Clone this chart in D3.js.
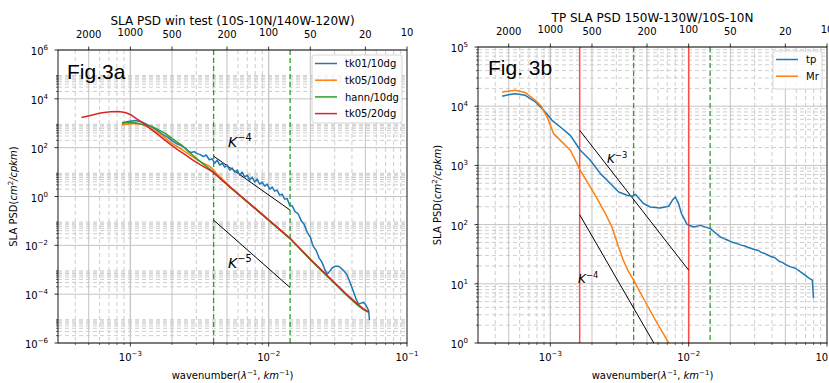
<!DOCTYPE html>
<html>
<head>
<meta charset="utf-8">
<script src="https://cdn.jsdelivr.net/npm/d3@7"></script>
<style>
body { margin: 0; background: #fff; }
text { font-family: "DejaVu Sans", sans-serif; fill: #000; }
</style>
</head>
<body>
<svg id="chart" width="829" height="383"></svg>
<script>
// ---- data: [wavenumber (1/km), PSD] ----
const tk01 = [[8.71e-4,1047],[9.67e-4,1175],[1.087e-3,1290],[1.221e-3,1120],[1.349e-3,843],[1.515e-3,578],
  [1.703e-3,360],[1.88e-3,259],[2.043e-3,178],[2.186e-3,141],[2.336e-3,122],[2.496e-3,96],[2.622e-3,73],
  [2.754e-3,63],[2.897e-3,69],[3.04e-3,57],[3.2e-3,52],[3.37e-3,43],[3.54e-3,50],[3.72e-3,32],[3.91e-3,35],
  [4.07e-3,23],[4.25e-3,31],[4.43e-3,19.4],[4.62e-3,23.4],[4.81e-3,16],[5.01e-3,19.4],[5.23e-3,12.1],
  [5.45e-3,14.6],[5.68e-3,10],[5.92e-3,12.1],[6.17e-3,7.5],[6.44e-3,10],[6.71e-3,6.2],[7.0e-3,7.5],
  [7.29e-3,4.7],[7.6e-3,6.2],[7.93e-3,3.9],[8.26e-3,5.2],[8.61e-3,3.2],[8.98e-3,3.9],[9.36e-3,2.67],
  [9.76e-3,3.2],[1.017e-2,2.0],[1.06e-2,2.43],[1.105e-2,1.66],[1.152e-2,1.83],[1.2e-2,1.14],[1.25e-2,1.25],
  [1.305e-2,0.78],[1.36e-2,0.82],[1.42e-2,0.44],[1.48e-2,0.42],[1.55e-2,0.24],[1.63e-2,0.2],[1.72e-2,0.1],
  [1.8e-2,0.075],[1.9e-2,0.034],[2.0e-2,0.022],[2.09e-2,9.5e-3],[2.2e-2,6.3e-3],[2.32e-2,3.0e-3],
  [2.43e-2,2.0e-3],[2.56e-2,9.6e-4],[2.64e-2,6.6e-4],[2.73e-2,8.0e-4],[2.87e-2,1.16e-3],[3.02e-2,1.4e-3],
  [3.18e-2,1.4e-3],[3.34e-2,1.16e-3],[3.51e-2,8.8e-4],[3.69e-2,6.0e-4],[3.87e-2,3.1e-4],[4.07e-2,1.46e-4],
  [4.29e-2,6.2e-5],[4.47e-2,3.9e-5],[4.66e-2,4.3e-5],[4.85e-2,4.7e-5],[5.06e-2,3.5e-5],[5.27e-2,2.2e-5],
  [5.36e-2,8.6e-6]]
const tk05 = [[8.71e-4,843],[9.67e-4,927],[1.087e-3,972],[1.221e-3,885],[1.39e-3,635],[1.65e-3,361],
  [2.0e-3,150],[2.37e-3,84],[2.71e-3,50],[3.1e-3,29.6],[3.48e-3,21.3],[3.72e-3,17.6],[3.91e-3,13.9],
  [4.17e-3,9.1],[5.27e-3,2.45],[7.35e-3,0.49],[1.025e-2,0.097],[1.43e-2,0.019],[2.0e-2,2.7e-3],
  [2.64e-2,5.8e-4],[3.56e-2,1.12e-4],[4.35e-2,4.0e-5],[4.81e-2,2.5e-5],[5.32e-2,1.8e-5]]
const hann = [[8.71e-4,990],[9.67e-4,1070],[1.087e-3,1040],[1.221e-3,900],[1.44e-3,733],[1.79e-3,385],
  [2.01e-3,236],[2.37e-3,122],[2.64e-3,68],[3.11e-3,31],[3.89e-3,11.3],[5.27e-3,2.35],[7.35e-3,0.47],
  [1.025e-2,0.094],[1.43e-2,0.0185],[2.0e-2,2.6e-3],[2.64e-2,5.5e-4],[3.56e-2,1.05e-4],[4.35e-2,3.7e-5],
  [4.81e-2,2.4e-5],[5.32e-2,1.75e-5]]
const tk05w20 = [[4.43e-4,1714],[5.14e-4,2070],[6.07e-4,2620],[7.18e-4,2930],[8.19e-4,3020],[9.2e-4,2750],
  [1.017e-3,2170],[1.12e-3,1490],[1.24e-3,1020],[1.39e-3,607],[1.57e-3,361],[1.76e-3,215],[1.98e-3,128],
  [2.22e-3,80],[2.49e-3,52],[2.8e-3,32.5],[3.2e-3,20.3],[3.91e-3,10.5],[5.27e-3,2.43],[7.35e-3,0.489],
  [1.025e-2,0.098],[1.43e-2,0.0192],[2.0e-2,2.7e-3],[2.64e-2,5.9e-4],[3.56e-2,1.15e-4],[4.35e-2,4.1e-5],
  [4.81e-2,2.55e-5],[5.32e-2,1.83e-5]]

const tp = [[4.48e-4,14700],[4.97e-4,15600],[5.58e-4,16300],[6.59e-4,15300],[7.8e-4,11800],[9.2e-4,7980],
  [1.029e-3,5780],[1.181e-3,4450],[1.395e-3,3220],[1.648e-3,1800],[1.946e-3,1220],[2.3e-3,726],
  [2.715e-3,493],[3.12e-3,356],[3.59e-3,313],[3.92e-3,301],[4.12e-3,325],[4.73e-3,226],[5.28e-3,198],
  [6.24e-3,191],[7.16e-3,204],[7.62e-3,257],[8.01e-3,292],[8.43e-3,229],[8.86e-3,155],[9.73e-3,101],
  [1.087e-2,91],[1.215e-2,97],[1.435e-2,85.5],[1.695e-2,61.8],[1.8e-2,58],[1.9e-2,55],[2.0e-2,52],
  [2.1e-2,50],[2.24e-2,47.8],[2.4e-2,45],[2.55e-2,43.5],[2.7e-2,41],[2.95e-2,38.3],[3.15e-2,37],
  [3.35e-2,34],[3.6e-2,32],[3.9e-2,29.2],[4.2e-2,27.5],[4.5e-2,24],[4.75e-2,23],[5.0e-2,21.3],
  [5.4e-2,19.5],[5.91e-2,18.3],[6.4e-2,16],[6.98e-2,13.9],[7.4e-2,12.5],[7.84e-2,11.5],[7.98e-2,5.7]]
const mr = [[4.48e-4,17400],[5.58e-4,18600],[6.59e-4,17000],[7.8e-4,12600],[8.61e-4,9960],[9.51e-4,6500],
  [1.056e-3,3440],[1.248e-3,2330],[1.395e-3,1800],[1.56e-3,1070],[1.648e-3,826],[1.946e-3,431],
  [2.18e-3,275],[2.5e-3,153],[2.79e-3,91],[3.1e-3,43],[3.37e-3,25],[3.66e-3,16.3],[4.0e-3,11.5],
  [4.7e-3,5.7],[5.58e-3,2.75],[7.17e-3,1.0],[8.0e-3,0.63]]

// reference slopes and marker lines
const slopeA4 = [[4e-3,45],[1/70,0.277]]
const slopeA5 = [[4e-3,0.108],[1/70,1.86e-4]]
const slopeB3 = [[1.63e-3,3918],[1e-2,17]]
const slopeB4 = [[1.63e-3,147],[5.6e-3,1.0]]
const greenMarks = [1/250, 1/70]
const redMarks = [1.63e-3, 1e-2]

const xMajor = [1e-3, 1e-2, 1e-1]
const topWavelengths = [2000, 1000, 500, 200, 100, 50, 20, 10]
const yMajorA = [-6, -4, -2, 0, 2, 4, 6]
const yMajorB = [0, 1, 2, 3, 4, 5]

const svg = d3.select("#chart")
const minus = s => String(s).replace("-", "\u2212")

function powLabel(sel, exp, size) {
  sel.append("tspan").text("10")
  sel.append("tspan").attr("dy", -5).attr("font-size", size).text(minus(exp))
}

function drawPanel(p) {
  const x = d3.scaleLog().domain([3e-4, 0.1]).range([p.left, p.right])
  const y = d3.scaleLog().domain(p.yDomain).range([p.bottom, p.top])
  const g = svg.append("g")

  // minor positions
  const xMinor = []
  for (let e = -4; e <= -2; e++) for (let m = 2; m <= 9; m++) {
    const v = m * Math.pow(10, e)
    if (v > 3.01e-4 && v < 0.1) xMinor.push(v)
  }
  const topK = topWavelengths.map(l => 1 / l)
  const yMinor = []
  p.yMajor.forEach(e => { for (let m = 2; m <= 9; m++) {
    const v = m * Math.pow(10, e)
    if (v < p.yDomain[1]) yMinor.push(v)
  } })

  const grid = g.append("g")
  const isTop = v => topK.some(t => Math.abs(t - v) / v < 1e-6)
  grid.selectAll(".xm").data(xMinor.filter(v => !isTop(v))).join("line")
    .attr("x1", d => x(d)).attr("x2", d => x(d)).attr("y1", p.top).attr("y2", p.bottom)
    .attr("stroke", "#c8c8c8").attr("stroke-width", 0.9).attr("stroke-dasharray", "4,3")
  grid.selectAll(".ym").data(yMinor).join("line")
    .attr("x1", p.left).attr("x2", p.right).attr("y1", d => y(d)).attr("y2", d => y(d))
    .attr("stroke", "#c8c8c8").attr("stroke-width", 0.9).attr("stroke-dasharray", "4,3")
  grid.selectAll(".xM").data(xMajor.concat(topK).filter(v => v < 0.1)).join("line")
    .attr("x1", d => x(d)).attr("x2", d => x(d)).attr("y1", p.top).attr("y2", p.bottom)
    .attr("stroke", "#c4c4c4").attr("stroke-width", 1)
  grid.selectAll(".yM").data(p.yMajor.map(e => Math.pow(10, e))).join("line")
    .attr("x1", p.left).attr("x2", p.right).attr("y1", d => y(d)).attr("y2", d => y(d))
    .attr("stroke", "#c4c4c4").attr("stroke-width", 1)

  const clipId = "clip" + p.id
  svg.append("clipPath").attr("id", clipId).append("rect")
    .attr("x", p.left).attr("y", p.top).attr("width", p.right - p.left).attr("height", p.bottom - p.top)
  const plot = g.append("g").attr("clip-path", `url(#${clipId})`)

  const line = d3.line().x(d => x(d[0])).y(d => y(d[1]))

  ;(p.red || []).forEach(k => plot.append("line")
    .attr("x1", x(k)).attr("x2", x(k)).attr("y1", p.top).attr("y2", p.bottom)
    .attr("stroke", "#ff4a4a").attr("stroke-width", 1.5))
  greenMarks.forEach(k => plot.append("line")
    .attr("x1", x(k)).attr("x2", x(k)).attr("y1", p.top).attr("y2", p.bottom)
    .attr("stroke", "#2ca02c").attr("stroke-width", 1.3).attr("stroke-dasharray", "5,3"))

  p.slopes.forEach(s => plot.append("path").datum(s).attr("d", line)
    .attr("fill", "none").attr("stroke", "#000").attr("stroke-width", 1))

  p.series.forEach(s => plot.append("path").datum(s.pts).attr("d", line)
    .attr("fill", "none").attr("stroke", s.color).attr("stroke-width", 1.5)
    .attr("stroke-linejoin", "round"))

  // frame
  g.append("rect").attr("x", p.left).attr("y", p.top)
    .attr("width", p.right - p.left).attr("height", p.bottom - p.top)
    .attr("fill", "none").attr("stroke", "#000").attr("stroke-width", 0.9)

  // bottom ticks
  const ax = g.append("g")
  xMajor.forEach(v => {
    ax.append("line").attr("x1", x(v)).attr("x2", x(v)).attr("y1", p.bottom).attr("y2", p.bottom + 3.5)
      .attr("stroke", "#000").attr("stroke-width", 0.8)
    const t = ax.append("text").attr("x", x(v)).attr("y", p.bottom + 18)
      .attr("text-anchor", "middle").attr("font-size", 10)
    powLabel(t, Math.round(Math.log10(v)), 7)
  })
  xMinor.forEach(v => ax.append("line").attr("x1", x(v)).attr("x2", x(v))
    .attr("y1", p.bottom).attr("y2", p.bottom + 2).attr("stroke", "#000").attr("stroke-width", 0.6))

  // top ticks (wavelength, km)
  topWavelengths.forEach(l => {
    const k = 1 / l
    ax.append("line").attr("x1", x(k)).attr("x2", x(k)).attr("y1", p.top).attr("y2", p.top - 3.5)
      .attr("stroke", "#000").attr("stroke-width", 0.8)
    const dec = Number.isInteger(Math.log10(l))
    ax.append("text").attr("x", x(k)).attr("y", p.top - (dec ? 14.5 : 12.5))
      .attr("text-anchor", "middle").attr("font-size", 10).text(l)
  })

  // left ticks
  p.yMajor.forEach(e => {
    const v = Math.pow(10, e)
    ax.append("line").attr("x1", p.left - 3.5).attr("x2", p.left).attr("y1", y(v)).attr("y2", y(v))
      .attr("stroke", "#000").attr("stroke-width", 0.8)
    const t = ax.append("text").attr("x", p.left - 10).attr("y", y(v) + 5)
      .attr("text-anchor", "end").attr("font-size", 10)
    powLabel(t, e, 7)
  })
  yMinor.forEach(v => ax.append("line").attr("x1", p.left - 2).attr("x2", p.left)
    .attr("y1", y(v)).attr("y2", y(v)).attr("stroke", "#000").attr("stroke-width", 0.6))

  // titles and axis labels
  const cx = (p.left + p.right) / 2
  g.append("text").attr("x", cx).attr("y", p.top - 25.5).attr("text-anchor", "middle")
    .attr("font-size", 12).text(p.title)
  const xl = g.append("text").attr("x", cx).attr("y", 379).attr("text-anchor", "middle").attr("font-size", 10)
  xl.append("tspan").text("wavenumber(")
  xl.append("tspan").attr("font-style", "italic").text("\u03bb")
  xl.append("tspan").attr("dy", -4).attr("font-size", 7).text("\u22121")
  xl.append("tspan").attr("dy", 4).text(", ")
  xl.append("tspan").attr("font-style", "italic").text("km")
  xl.append("tspan").attr("dy", -4).attr("font-size", 7).text("\u22121")
  xl.append("tspan").attr("dy", 4).text(")")

  const cy = (p.top + p.bottom) / 2
  const yl = g.append("text").attr("transform", `translate(${p.ylabelX},${cy}) rotate(-90)`)
    .attr("text-anchor", "middle").attr("font-size", 10)
  yl.append("tspan").text("SLA PSD(")
  yl.append("tspan").attr("font-style", "italic").text("cm")
  yl.append("tspan").attr("dy", -4).attr("font-size", 7).text("2")
  yl.append("tspan").attr("dy", 4).attr("font-style", "italic").text("/cpkm")
  yl.append("tspan").text(")")

  g.append("text").attr("x", p.figX).attr("y", p.figY)
    .style("font-family", "'Liberation Sans', Arial, sans-serif").attr("font-size", 21).text(p.fig)

  p.klabels.forEach(k => {
    const t = g.append("text").attr("x", k.x).attr("y", k.y).attr("font-size", k.size)
    t.append("tspan").attr("font-style", "italic").text("K")
    t.append("tspan").attr("dy", -k.size * 0.45).attr("font-size", k.size * 0.7).text(minus(k.exp))
  })

  // legend
  const L = p.legend
  const lg = g.append("g")
  lg.append("rect").attr("x", L.x).attr("y", L.y).attr("width", L.w).attr("height", L.h)
    .attr("rx", 2.5).attr("fill", "#fff").attr("fill-opacity", 0.8).attr("stroke", "#cccccc").attr("stroke-width", 0.8)
  p.series.forEach((s, i) => {
    const yy = L.y + 8.5 + i * 16.7
    lg.append("line").attr("x1", L.x + 3).attr("x2", L.x + 25).attr("y1", yy).attr("y2", yy)
      .attr("stroke", s.color).attr("stroke-width", 1.5)
    lg.append("text").attr("x", L.x + 33).attr("y", yy + 3.6).attr("font-size", 10).text(s.name)
  })
}

drawPanel({
  id: "a", left: 58, right: 407, top: 50, bottom: 343,
  yDomain: [1e-6, 1e6], yMajor: yMajorA,
  title: "SLA PSD win test (10S-10N/140W-120W)",
  series: [
    { name: "tk01/10dg", color: "#1f77b4", pts: tk01 },
    { name: "tk05/10dg", color: "#ff7f0e", pts: tk05 },
    { name: "hann/10dg", color: "#2ca02c", pts: hann },
    { name: "tk05/20dg", color: "#d62728", pts: tk05w20 }
  ],
  slopes: [slopeA4, slopeA5],
  ylabelX: 17, fig: "Fig.3a", figX: 67, figY: 79,
  klabels: [{ x: 228, y: 147, size: 14, exp: -4 }, { x: 228, y: 268, size: 14, exp: -5 }],
  legend: { x: 312, y: 55, w: 90, h: 68 }
})

drawPanel({
  id: "b", left: 478, right: 827, top: 47, bottom: 343,
  yDomain: [1, 1e5], yMajor: yMajorB,
  title: "TP SLA PSD 150W-130W/10S-10N",
  series: [
    { name: "tp", color: "#1f77b4", pts: tp },
    { name: "Mr", color: "#ff7f0e", pts: mr }
  ],
  slopes: [slopeB3, slopeB4],
  red: redMarks,
  ylabelX: 441, fig: "Fig. 3b", figX: 488, figY: 75,
  klabels: [{ x: 607, y: 163, size: 12, exp: -3 }, { x: 578, y: 283, size: 12, exp: -4 }],
  legend: { x: 773, y: 51, w: 49, h: 38 }
})
</script>
</body>
</html>
